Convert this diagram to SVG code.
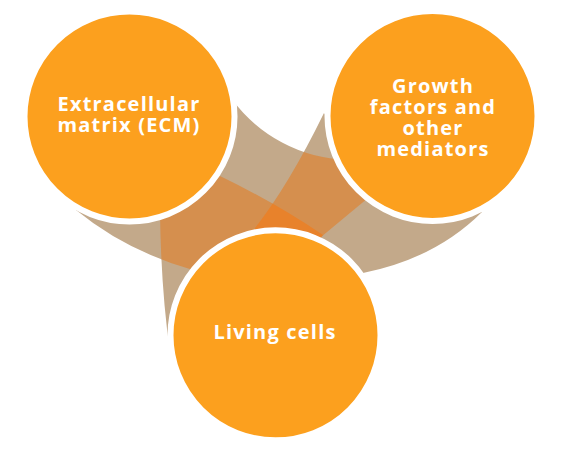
<svg xmlns="http://www.w3.org/2000/svg" xmlns:xlink="http://www.w3.org/1999/xlink" width="562" height="459" viewBox="0 0 562 459">
  <style>
    .node { fill: #FCA01E; stroke: #FFFFFF; stroke-width: 6; }
    .label { fill: #FFFFFF; font-family: "Open Sans", "Liberation Sans", sans-serif; font-weight: 700; font-size: 20px; letter-spacing: 1.2px; text-anchor: middle; }
    .single { fill: #C3A98A; }
    .double { fill: #D58F4E; }
    .triple { fill: #E8822B; }
  </style>
  <defs>
    <path id="bandP" d="M110,180 L76,210 Q126,251 193,270 L240,300 L312,250 L323,235 Q275,202.6 220,176 L190,160 Z"/>
    <path id="bandQ" d="M340,140 L324,113 Q288.5,185.5 255,228 L275,290 L350,276 L363,273 Q435.5,258.5 482,212 L440,160 Z"/>
    <path id="bandR" d="M200,150 L160,212 Q161,290 170,352 L240,320 L315,242 L368,198 L390,150 L346.8,159.9 A149,149 0 0 1 231.5,98.6 Z"/>
    <clipPath id="clipP"><use xlink:href="#bandP"/></clipPath>
    <clipPath id="clipQ"><use xlink:href="#bandQ"/></clipPath>
  </defs>
  <g id="connectors">
    <use xlink:href="#bandP" class="single"/>
    <use xlink:href="#bandQ" class="single"/>
    <use xlink:href="#bandR" class="single"/>
    <use xlink:href="#bandQ" class="double" clip-path="url(#clipP)"/>
    <use xlink:href="#bandR" class="double" clip-path="url(#clipP)"/>
    <use xlink:href="#bandR" class="double" clip-path="url(#clipQ)"/>
    <g clip-path="url(#clipP)">
      <use xlink:href="#bandR" class="triple" clip-path="url(#clipQ)"/>
    </g>
  </g>
  <g id="node-ecm">
    <circle class="node" cx="129.5" cy="116.5" r="105"/>
    <text class="label" x="129" y="110.5">Extracellular</text>
    <text class="label" x="129" y="131.5">matrix (ECM)</text>
  </g>
  <g id="node-growth">
    <circle class="node" cx="432.5" cy="116" r="105"/>
    <text class="label" x="433" y="92.5">Growth</text>
    <text class="label" x="433" y="113.5">factors and</text>
    <text class="label" x="433" y="134.5">other</text>
    <text class="label" x="433" y="155.5">mediators</text>
  </g>
  <g id="node-living">
    <circle class="node" cx="275.5" cy="335.3" r="105"/>
    <text class="label" x="275" y="339">Living cells</text>
  </g>
</svg>
